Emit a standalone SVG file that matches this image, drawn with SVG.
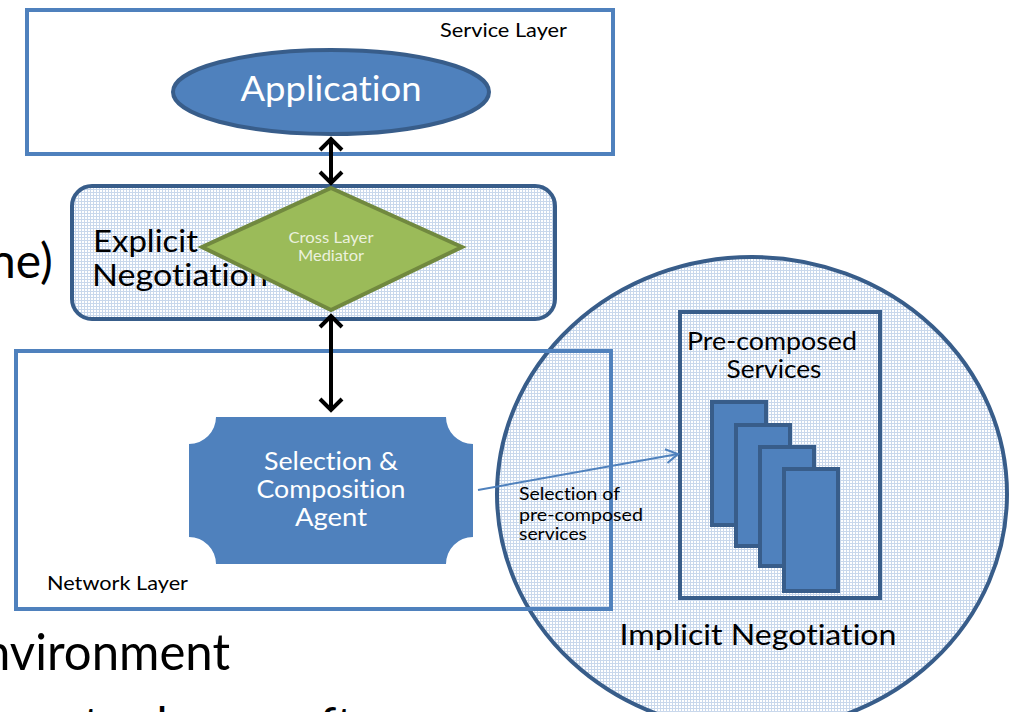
<svg xmlns="http://www.w3.org/2000/svg" width="1009" height="712" viewBox="0 0 1009 712">
  <defs>
    <style>
      .txt { font-family: Lato, "Open Sans", "Liberation Sans", sans-serif; font-variant-ligatures: none; font-feature-settings: "liga" 0, "clig" 0, "dlig" 0; }
      .dark { fill: #000000; }
      .light { fill: #FFFFFF; }
      .layer { fill: none; stroke: #4F81BD; stroke-width: 4; }
      .blueShape { fill: #4F81BD; stroke: #385D8A; stroke-width: 4; }
      .biArrow { stroke: #000000; stroke-width: 4; fill: none; marker-start: url(#headBlack); marker-end: url(#headBlack); }
    </style>
    <!-- light blue dotted-grid fill used for the negotiation shapes -->
    <pattern id="dotGrid" width="3" height="3" patternUnits="userSpaceOnUse">
      <rect x="0" y="0" width="3" height="1" fill="#C9D8EC"/>
      <rect x="0" y="0" width="1" height="3" fill="#C9D8EC"/>
    </pattern>
    <marker id="headBlack" viewBox="-16 -14 20 28" refX="0" refY="0" markerWidth="20" markerHeight="28" markerUnits="userSpaceOnUse" orient="auto-start-reverse">
      <path d="M-11,-11 L0,0 L-11,11" fill="none" stroke="#000000" stroke-width="4" stroke-linejoin="miter"/>
    </marker>
    <marker id="headBlue" viewBox="-16 -10 20 20" refX="0" refY="0" markerWidth="20" markerHeight="20" markerUnits="userSpaceOnUse" orient="auto">
      <path d="M-12,-7 L0,0 L-12,7" fill="none" stroke="#4F81BD" stroke-width="2"/>
    </marker>
  </defs>

  <!-- surrounding slide text, partly cut off -->
  <g id="slideText" class="txt dark">
    <text x="-11" y="278" font-size="48">ne)</text>
    <text x="-17" y="670" font-size="50" textLength="247" lengthAdjust="spacingAndGlyphs">nvironment</text>
    <text x="-8" y="742" font-size="48">ments change after</text>
  </g>

  <!-- implicit negotiation region (behind the network layer outline) -->
  <g id="implicitNegotiation">
    <ellipse cx="752" cy="494" rx="255" ry="237" fill="url(#dotGrid)" stroke="#385D8A" stroke-width="4"/>
    <text class="txt dark" x="758" y="645" font-size="28" text-anchor="middle" textLength="277" lengthAdjust="spacingAndGlyphs">Implicit Negotiation</text>
  </g>

  <!-- service layer -->
  <g id="serviceLayer">
    <rect class="layer" x="27" y="10" width="586" height="144"/>
    <text class="txt dark" x="440" y="37" font-size="20" textLength="127" lengthAdjust="spacingAndGlyphs">Service Layer</text>
  </g>

  <g id="application">
    <ellipse cx="331" cy="92" rx="158" ry="42" fill="#4F81BD" stroke="#385D8A" stroke-width="4"/>
    <text class="txt light" x="331" y="101" font-size="34" text-anchor="middle" textLength="181" lengthAdjust="spacingAndGlyphs">Application</text>
  </g>

  <!-- explicit negotiation band -->
  <g id="explicitNegotiation">
    <rect x="72" y="186" width="483" height="133" rx="20" ry="20" fill="url(#dotGrid)" stroke="#385D8A" stroke-width="4"/>
    <text class="txt dark" x="93" y="252" font-size="30" textLength="105" lengthAdjust="spacingAndGlyphs">Explicit</text>
    <text class="txt dark" x="92" y="286" font-size="30" textLength="176" lengthAdjust="spacingAndGlyphs">Negotiation</text>
  </g>

  <g id="crossLayerMediator">
    <polygon points="331,188 462,247 331,310 202,247" fill="#9BBB59" stroke="#71893F" stroke-width="4"/>
    <text class="txt" fill="#EBF1DE" x="331" y="243" font-size="15" text-anchor="middle" textLength="85" lengthAdjust="spacingAndGlyphs">Cross Layer</text>
    <text class="txt" fill="#EBF1DE" x="331" y="261" font-size="15" text-anchor="middle" textLength="66" lengthAdjust="spacingAndGlyphs">Mediator</text>
  </g>

  <!-- network layer -->
  <g id="networkLayer">
    <rect class="layer" x="16" y="351" width="595" height="258"/>
    <text class="txt dark" x="47" y="590" font-size="20" textLength="141" lengthAdjust="spacingAndGlyphs">Network Layer</text>
  </g>

  <g id="selectionAgent">
    <path d="M216 417 H446 A27 27 0 0 0 473 444 V537 A27 27 0 0 0 446 564 H216 A27 27 0 0 0 189 537 V444 A27 27 0 0 0 216 417 Z" fill="#4F81BD"/>
    <text class="txt light" x="331" y="470" font-size="25" text-anchor="middle" textLength="134" lengthAdjust="spacingAndGlyphs">Selection &amp;</text>
    <text class="txt light" x="331" y="498" font-size="25" text-anchor="middle" textLength="149" lengthAdjust="spacingAndGlyphs">Composition</text>
    <text class="txt light" x="331" y="526" font-size="25" text-anchor="middle" textLength="72" lengthAdjust="spacingAndGlyphs">Agent</text>
  </g>

  <g id="preComposedServices">
    <rect x="680" y="312" width="200" height="286" fill="none" stroke="#385D8A" stroke-width="4"/>
    <text class="txt dark" x="772" y="350" font-size="25" text-anchor="middle" textLength="170" lengthAdjust="spacingAndGlyphs">Pre-composed</text>
    <text class="txt dark" x="774" y="378" font-size="25" text-anchor="middle" textLength="95" lengthAdjust="spacingAndGlyphs">Services</text>
    <rect class="blueShape" x="712" y="402" width="54" height="123"/>
    <rect class="blueShape" x="736" y="425" width="54" height="121"/>
    <rect class="blueShape" x="760" y="447" width="54" height="119"/>
    <rect class="blueShape" x="784" y="469" width="54" height="122"/>
  </g>

  <g id="selectionLabel" class="txt dark" font-size="17">
    <text x="519" y="500" textLength="101" lengthAdjust="spacingAndGlyphs">Selection of</text>
    <text x="519" y="521" textLength="124" lengthAdjust="spacingAndGlyphs">pre-composed</text>
    <text x="519" y="540" textLength="68" lengthAdjust="spacingAndGlyphs">services</text>
  </g>

  <!-- connectors -->
  <g id="connectors">
    <line class="biArrow" x1="331" y1="139" x2="331" y2="183"/>
    <line class="biArrow" x1="331" y1="316" x2="331" y2="410"/>
    <line x1="478" y1="490" x2="678" y2="454" stroke="#4F81BD" stroke-width="2" marker-end="url(#headBlue)"/>
  </g>
</svg>
